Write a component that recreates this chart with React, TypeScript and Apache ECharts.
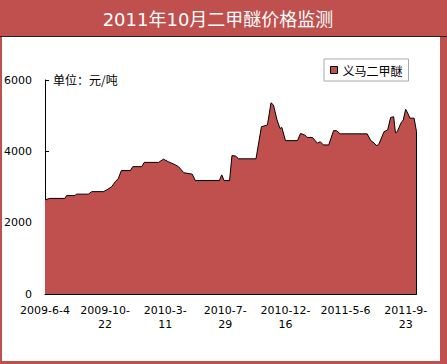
import React, { useEffect, useRef } from "react";
import * as echarts from "echarts";

const TITLE = "2011年10月二甲醚价格监测";
const UNIT = "单位：元/吨";
const SERIES_NAME = "义马二甲醚";
const xTickLabels = ["2009-6-4", "2009-10-22", "2010-3-11", "2010-7-29", "2010-12-16", "2011-5-6", "2011-9-23"];
const yTickValues = [0, 2000, 4000, 6000];
// trading-day index of each vertex of the price line
const pointIndex = [
  0, 8, 33, 36, 50, 52, 72, 78, 97, 103, 111, 117, 122, 127, 142, 146, 161, 165, 189, 197,
  205, 217, 222, 231, 245, 250, 290, 294, 298, 307, 311, 317, 322, 351, 360, 370, 376, 380, 386, 391,
  394, 400, 420, 425, 432, 436, 445, 453, 458, 463, 472, 480, 485, 491, 536, 542, 547, 552, 556, 564,
  570, 575, 580, 583, 586, 592, 596, 600, 604, 607, 614, 618,
];
const priceValues = [
  2640, 2680, 2680, 2760, 2760, 2800, 2800, 2870, 2870, 2920, 3010, 3150, 3240, 3460, 3460, 3570, 3570, 3690, 3690, 3780,
  3710, 3620, 3570, 3400, 3360, 3180, 3180, 3340, 3180, 3180, 3880, 3870, 3790, 3790, 4690, 4740, 5360, 5300, 4880, 4640,
  4670, 4300, 4300, 4500, 4460, 4390, 4390, 4230, 4270, 4180, 4180, 4580, 4580, 4490, 4490, 4300, 4240, 4150, 4225, 4550,
  4600, 4950, 4970, 4520, 4550, 4790, 4880, 5180, 5050, 4930, 4930, 4550,
];

const RED = "#C0504D";
const FONT = "'DejaVu Sans', 'Noto Sans CJK SC', sans-serif";
const CJK = "'Noto Sans CJK SC', sans-serif";

export default function App() {
  const ref = useRef<HTMLDivElement>(null);
  useEffect(() => {
    if (!ref.current) return;
    const chart = echarts.init(ref.current, undefined, { renderer: "svg" });
    const data = pointIndex.map((i, k) => [i, priceValues[k]]);
    const lastIdx = pointIndex[pointIndex.length - 1];
    const lastVal = priceValues[priceValues.length - 1];
    const yMax = yTickValues[yTickValues.length - 1];
    const yStep = yTickValues[1] - yTickValues[0];
    const xStep = 100;
    chart.setOption({
      animation: false,
      backgroundColor: RED,
      graphic: [
        { type: "rect", z: -10, shape: { x: 2, y: 37, width: 438, height: 324 }, style: { fill: "#fff" } },
        { type: "line", z: -5, shape: { x1: 0, y1: 36.5, x2: 447, y2: 36.5 }, style: { stroke: "#222", lineWidth: 1 } },
        {
          type: "text",
          x: 218,
          y: 19,
          style: {
            text: TITLE,
            fill: "#fff",
            font: `18px ${FONT}`,
            align: "center",
            verticalAlign: "middle",
          },
        },
        {
          type: "text",
          x: 53,
          y: 79,
          style: { text: UNIT, fill: "#000", font: `12px ${CJK}`, align: "left", verticalAlign: "middle" },
        },
      ],
      legend: {
        left: 324,
        top: 59,
        padding: [5, 6, 5, 6],
        borderColor: "#aaa",
        borderWidth: 1,
        backgroundColor: "#fff",
        itemWidth: 7,
        itemHeight: 7,
        icon: "rect",
        textStyle: { fontSize: 12, fontFamily: CJK, color: "#000" },
        data: [{ name: SERIES_NAME, itemStyle: { color: RED, borderColor: "#000", borderWidth: 1 } }],
      },
      grid: { left: 45, right: 30.5, top: 80, bottom: 70, containLabel: false },
      xAxis: {
        type: "value",
        min: 0,
        max: lastIdx,
        interval: xStep,
        splitLine: { show: false },
        axisLine: { show: true, lineStyle: { color: "#000", width: 1 } },
        axisTick: { show: true, inside: true, length: 3, lineStyle: { color: "#000" } },
        axisLabel: {
          showMaxLabel: false,
          margin: 9,
          color: "#000",
          fontSize: 11,
          fontFamily: FONT,
          lineHeight: 14,
          formatter: (v: number) => {
            const i = v / xStep;
            if (!Number.isInteger(i) || i < 0 || i >= xTickLabels.length) return "";
            const s = xTickLabels[i];
            if (s.length <= 8) return s;
            const p = s.split("-");
            return `${p[0]}-${p[1]}-\n${p[2]}`;
          },
        },
      },
      yAxis: {
        type: "value",
        min: 0,
        max: yMax,
        interval: yStep,
        splitLine: { show: false },
        axisLine: { show: true, lineStyle: { color: "#000", width: 1 } },
        axisTick: { show: true, inside: true, length: 4, lineStyle: { color: "#000" } },
        axisLabel: {
          margin: 13,
          color: "#000",
          fontSize: 11,
          fontFamily: FONT,
          formatter: (v: number) => String(v),
        },
      },
      series: [
        {
          name: SERIES_NAME,
          type: "line",
          data,
          symbol: "none",
          color: RED,
          lineStyle: { color: "#000", width: 1 },
          areaStyle: { color: RED, opacity: 1 },
          markLine: {
            silent: true,
            symbol: ["none", "none"],
            label: { show: false },
            lineStyle: { color: "#000", width: 1, type: "solid" },
            data: [[{ coord: [lastIdx, lastVal] }, { coord: [lastIdx, 0] }]],
          },
        },
      ],
    });
    return () => chart.dispose();
  }, []);
  return <div ref={ref} style={{ position: "fixed", left: 0, top: 0, width: 447, height: 364 }} />;
}
